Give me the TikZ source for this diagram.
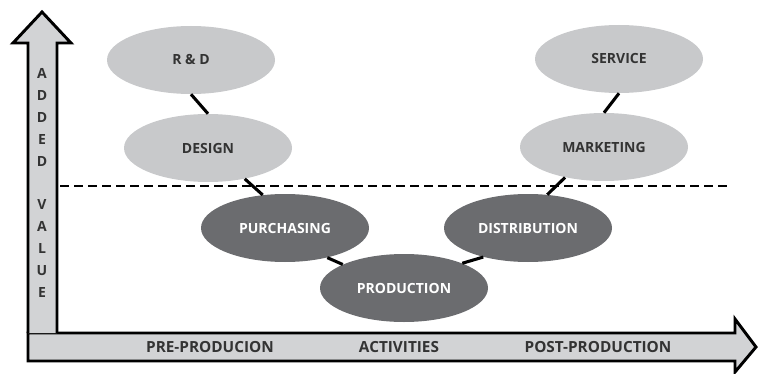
\documentclass[tikz,border=0pt]{standalone}
\usepackage{fontspec}
\setmainfont{Open Sans}
\usetikzlibrary{shapes.geometric}
\definecolor{lightstage}{HTML}{C8C9CB}
\definecolor{darkstage}{HTML}{6B6C6F}
\definecolor{axisfill}{HTML}{D2D3D5}
\definecolor{inktext}{HTML}{333333}
\begin{document}
\begin{tikzpicture}[x=0.75pt, y=-0.75pt,
    stage/.style={ellipse, minimum width=126pt, minimum height=51pt, inner sep=0pt,
        font=\fontsize{10.5}{12}\selectfont\bfseries},
    light/.style={stage, fill=lightstage, text=inktext},
    dark/.style={stage, fill=darkstage, text=white},
    link/.style={line width=2.3pt, black},
    axis/.style={fill=axisfill, draw=black, line width=2.2pt, line join=miter},
    axislabel/.style={text=inktext, font=\fontsize{11.5}{13}\selectfont\bfseries}]
    \useasboundingbox (0,0) rectangle (759,374);
    % the two axes
    \draw[axis] (28,333) -- (735,333) -- (735,319) -- (756,347) -- (735,372)
        -- (735,361) -- (28,361) -- cycle;
    \draw[axis] (28,333) -- (28,43) -- (13,43) -- (42,12) -- (71,43)
        -- (57,43) -- (57,333);
    \node[axislabel, align=center, font=\fontsize{10.5}{16.4}\selectfont\bfseries]
        (valuelabel) at (42,183) {A\\D\\D\\E\\D\\[16.4pt]V\\A\\L\\U\\E};
    \node[axislabel] (pre) at (210,347) {PRE-PRODUCION};
    \node[axislabel] (act) at (399,347) {ACTIVITIES};
    \node[axislabel] (post) at (598,347) {POST-PRODUCTION};
    \draw[dashed, line width=1.2pt, dash pattern=on 6.5pt off 4pt] (60,186) -- (729,186);
    % value chain stages
    \node[light] (rd) at (191,60) {R \& D};
    \node[light] (design) at (208,148) {DESIGN};
    \node[dark] (purch) at (285,228) {PURCHASING};
    \node[dark] (prod) at (404,288) {PRODUCTION};
    \node[dark] (dist) at (528,228) {DISTRIBUTION};
    \node[light] (market) at (604,147) {MARKETING};
    \node[light] (service) at (619,59) {SERVICE};
    \draw[link] (rd.south) -- (design.north);
    \draw[link] (design.-40) -- (purch.124);
    \draw[link] (purch.-35) -- (prod.159);
    \draw[link] (prod.23) -- (dist.-147);
    \draw[link] (dist.60) -- (market.-142);
    \draw[link] (market.north) -- (service.south);
\end{tikzpicture}
\end{document}
